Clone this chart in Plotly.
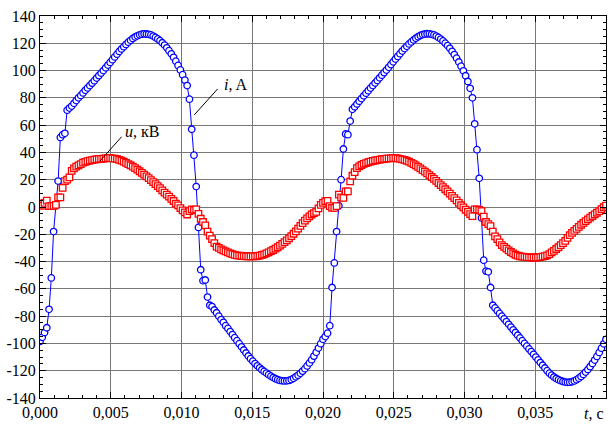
import plotly.graph_objects as go

# sampling step of the record, s
dt = 0.00016

# current i, A  (first period, 0 ... 0.01984 s)
current_p1 = [
    -98.5, -95.5, -92, -88.5, -75, -52, -18, 1, 19, 51, 53, 54, 71,
    72.5, 74, 76, 78, 80, 81.8, 83.6, 85.5, 87.3, 89, 90.8, 92.6, 94.5, 96.3, 98.2, 100,
    102, 104, 106, 108, 110, 112, 114, 115.8, 117.5, 119.2, 120.8, 122.2, 123.5, 124.6,
    125.5, 126.2, 126.7,
    126.9, 126.8, 126.6, 126.1, 125.3, 124.3, 123.2, 121.9, 120.4, 118.7, 116.7, 114.6,
    112.3, 109.7, 106.9, 103.8, 100.5, 97, 93, 89,
    79, 57, 38, 15, -15, -46, -54, -53.5, -66, -72,
    -73, -75.5, -77.5, -80, -82.5, -84.5, -87, -89, -91.3, -93.5, -95.8, -98, -100.2,
    -102.5, -104.8, -107, -109.2, -111.2, -113, -114.8, -116.4, -117.9, -119.3, -120.5,
    -121.7, -122.9, -124, -125, -125.9, -126.6, -127.1, -127.4, -127.5,
    -127.4, -127.1, -126.5, -125.6, -124.5, -123.3, -121.9, -120.3, -118.5, -116.5,
    -114.3, -111.9, -109.3, -106.5, -103.4, -100.2,
]
# current i, A  (second period, 0.020 ... 0.040 s)
current_p2 = [
    -97, -95, -92.5, -87, -59, -41, -18, 1, 20, 42.5, 53.5, 53, 63, 71.6,
    73.5, 75.5, 77.5, 79.5, 81.5, 83.4, 85.3, 87.2, 89, 90.9, 92.8, 94.7, 96.6, 98.5,
    100.4, 102.4, 104.4, 106.4, 108.4, 110.4, 112.4, 114.3, 116.1, 117.8, 119.5, 121,
    122.4, 123.7, 124.8, 125.7, 126.4, 126.8,
    127, 126.9, 126.6, 126.1, 125.3, 124.3, 123.1, 121.7, 120.1, 118.3, 116.3, 114.1,
    111.7, 109.1, 106.3, 103.2, 99.8, 96.2, 92,
    87, 80, 61, 42, 21, -8, -39, -47, -47.5, -59, -72,
    -74, -76, -78, -80, -82, -84, -86, -88, -90, -92, -94, -96, -98, -100, -102, -104,
    -106, -108, -110, -112, -114, -116, -118, -120, -121.8, -123.3, -124.6, -125.7,
    -126.6, -127.3, -127.9, -128.3, -128.5,
    -128.4, -128.1, -127.5, -126.6, -125.5, -124.2, -122.7, -121, -119.1, -117, -114.7,
    -112.2, -109.5, -106.6, -103.5, -100.3, -97,
]

# voltage u, kV (first period)
voltage_p1 = [
    1, 1, 3, 4.7, 0.6, 0.6, 0.8, 1.5, 7, 7,
    14, 19, 20, 21.7, 26.5, 28.3, 29.6, 30.5, 31.5, 32.5,
    33.1, 33.6, 34, 34.4, 34.7, 35, 35.2, 35.3, 35.5, 35.6,
    35.8, 35.8, 35.7, 35.5, 35.2, 34.6, 34, 33.2, 32.3, 31.4,
    30.6, 29.6, 28.5, 27.4, 26.2, 25, 23.8, 22.5, 21.1, 19.7,
    18.3, 16.8, 15.3, 13.8, 12.2, 10.6, 9, 7.6, 6, 4.4,
    2.5, 1.2, -0.8, -2.5, -4, -5.5, -3, -1.8, -2.2, -1.8,
    -5, -8.6, -11, -13.5, -18, -21, -23.6, -26.5, -29, -30,
    -31, -31.8, -32.5, -33.3, -34, -34.6, -35.1, -35.4, -35.7, -35.9,
    -36, -36.1, -36.2, -36.2, -36.2, -36.1, -35.9, -35.6, -35.2, -34.7,
    -34, -33.3, -32.4, -31.5, -30.5, -29.5, -28.3, -27.1, -25.8, -24.4,
    -22.9, -21.3, -19.6, -17.8, -15.8, -13.8, -11.8, -10, -8.3, -6.8,
    -5.5, -4.5, -3.5, -1, 1.5,
]
# voltage u, kV (second period)
voltage_p2 = [
    3, 4.2, 4.5, 0.6, -0.6, -0.6, 0.6, 9, 7, 6.7,
    11.5, 11.5, 18.8, 22.9, 25.5, 28.5, 29.8, 30.8, 31.6, 32.2,
    32.8, 33.3, 33.7, 34.1, 34.4, 34.7, 35, 35.2, 35.4, 35.6,
    35.7, 35.8, 35.8, 35.6, 35.3, 34.9, 34.5, 33.9, 33.2, 32.4,
    31.5, 30.5, 29.4, 28.3, 27.1, 25.9, 24.6, 23.3, 22, 20.6,
    19.1, 17.6, 16.1, 14.6, 13, 11.4, 9.8, 8.2, 6.5, 4.8,
    3, 1.3, -0.3, -2, -3.5, -5.2, -6.7, -1.8, -1.8, -2.2,
    -3, -7, -11, -12.5, -14, -18, -21.5, -23.5, -26, -28,
    -29.2, -30.5, -31.8, -33, -34, -35, -35.7, -36.1, -36.4, -36.6,
    -36.8, -36.9, -37, -37, -37, -36.9, -36.7, -36.4, -36, -35.5,
    -34.5, -33.3, -32.1, -30.8, -29.5, -28, -26.5, -24.8, -22.6, -20.6,
    -19, -17.5, -16, -14.5, -13, -11.6, -10.3, -9, -7.8, -6.6,
    -5.4, -4.2, -3, -1.6, -0.2, 1,
]

current = current_p1 + current_p2
voltage = voltage_p1 + voltage_p2
t_i = [round(k * dt, 6) for k in range(len(current))]
t_u = [round(k * dt, 6) for k in range(len(voltage))]

x_tickvals = [0, 0.005, 0.010, 0.015, 0.020, 0.025, 0.030, 0.035, 0.040]
x_ticktext = ["0,000", "0,005", "0,010", "0,015", "0,020", "0,025", "0,030", "0,035", ""]
y_tickvals = list(range(-140, 141, 20))
y_ticktext = [str(v) for v in y_tickvals]

FONT = "Liberation Serif, Times New Roman, serif"

fig = go.Figure()
fig.add_trace(go.Scatter(
    x=t_i, y=current, mode="lines+markers",
    line=dict(color="#0000FF", width=1),
    marker=dict(symbol="circle", size=6.5, color="white",
                line=dict(color="#0000FF", width=1.3)),
    showlegend=False, cliponaxis=True,
))
fig.add_trace(go.Scatter(
    x=t_u, y=voltage, mode="markers",
    marker=dict(symbol="square", size=6.5, color="white",
                line=dict(color="#FF0000", width=1.3)),
    showlegend=False, cliponaxis=True,
))

axis_common = dict(
    showline=True, linecolor="black", linewidth=1, mirror="ticks",
    ticks="inside", ticklen=6, tickwidth=1, tickcolor="black",
    showgrid=True, gridcolor="#777777", gridwidth=1, zeroline=False,
    tickfont=dict(family=FONT, size=16, color="black"),
)

fig.update_xaxes(
    range=[0, 0.04], tickmode="array", tickvals=x_tickvals, ticktext=x_ticktext,
    minor=dict(tickmode="linear", tick0=0, dtick=0.001, ticks="inside", ticklen=3,
               tickcolor="black", showgrid=False),
    **axis_common,
)
fig.update_yaxes(
    range=[-140, 140], tickmode="array", tickvals=y_tickvals, ticktext=y_ticktext,
    minor=dict(tickmode="linear", tick0=0, dtick=5, ticks="inside", ticklen=3,
               tickcolor="black", showgrid=False),
    **axis_common,
)

fig.add_annotation(x=0.01285, y=90, xref="x", yref="y", text="<i>i</i>, A",
                   showarrow=False, xanchor="left", yanchor="middle",
                   font=dict(family=FONT, size=16, color="black"))
fig.add_annotation(x=0.00585, y=55, xref="x", yref="y", text="<i>u</i>, кВ",
                   showarrow=False, xanchor="left", yanchor="middle",
                   font=dict(family=FONT, size=16, color="black"))
fig.add_annotation(x=1, y=0, xref="paper", yref="paper", text="<i>t</i>, c",
                   showarrow=False, xanchor="right", yanchor="top", yshift=-5,
                   font=dict(family=FONT, size=16, color="black"))

fig.add_shape(type="line", xref="x", yref="y", x0=0.0109, y0=67.5, x1=0.01255, y1=86.5,
              line=dict(color="black", width=1))
fig.add_shape(type="line", xref="x", yref="y", x0=0.00422, y0=33.5, x1=0.00577, y1=51.5,
              line=dict(color="black", width=1))

fig.update_layout(
    width=610, height=424,
    margin=dict(l=40, r=3, t=16, b=24),
    paper_bgcolor="white", plot_bgcolor="white",
    font=dict(family=FONT, size=16, color="black"),
)

fig.write_html("out.html")
